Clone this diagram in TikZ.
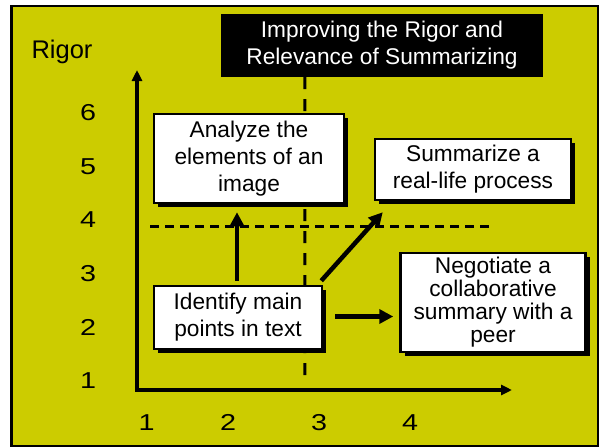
\documentclass[tikz,border=0pt]{standalone}
\usepackage{fontspec}
\setmainfont{Liberation Sans}
\newfontfamily\digitfont[FakeStretch=1.25]{Liberation Sans}
\usetikzlibrary{
  arrows.meta,
  calc,
  positioning,
  shadows
}
\definecolor{slideyellow}{RGB}{204,204,0}
\tikzset{
  axis line/.style={-{Triangle[length=11pt,width=10pt]},line width=3.2pt,draw=black},
  move/.style={-{Triangle[length=14pt,width=14pt]},line width=4.5pt,draw=black},
  guide/.style={line width=3pt,draw=black,dash pattern=on 9pt off 6pt},
  long guide/.style={guide,dash pattern=on 12pt off 10pt},
  stage box/.style={
    draw=black,
    line width=2.5pt,
    fill=white,
    align=center,
    inner sep=0pt,
    drop shadow={shadow xshift=4pt,shadow yshift=-4pt,fill=black,opacity=1}
  },
  title box/.style={fill=black,text=white,align=center,inner sep=0pt},
  ticklabel/.style={inner sep=0pt,font=\digitfont\fontsize{23}{27}\selectfont}
}
\newcommand{\slidefont}{\fontsize{22.7}{27}\selectfont}

\begin{document}
\begin{tikzpicture}[x=1pt,y=-1pt,font=\slidefont]
  \useasboundingbox (0,0) rectangle (600,447);
  % Slide background.
  \draw[line width=2.5pt,fill=slideyellow] (11.5,6) rectangle (598,446);

  % Title and axis name.
  \node[title box,minimum width=322pt,minimum height=63pt] (title) at (382,45.5)
    {Improving the Rigor and\\Relevance of Summarizing};
  \node[anchor=base,inner sep=0pt,font=\fontsize{25.5}{30}\selectfont] (rigor) at (62,58) {Rigor};

  % Axes.
  \coordinate (origin) at (137,390);
  \coordinate (ytip) at (137,70);
  \coordinate (xtip) at (512,390);
  \draw[axis line] ([yshift=-1.6pt]origin) -- (ytip);
  \draw[axis line] ([xshift=-1.6pt]origin) -- (xtip);
  \foreach \v/\y in {6/113,5/166.5,4/220,3/274,2/327.5,1/381} {
    \node[ticklabel] (y\v) at (88,\y) {\v};
  }
  \foreach \v/\x in {1/146.5,2/228,3/319,4/410} {
    \node[ticklabel] (x\v) at (\x,422.5) {\v};
  }

  % Quadrant guides.
  \draw[long guide] ($(title.south west)+(84,0)$) -- (305,380);
  \draw[guide] (150,226) -- (490,226);

  % Tasks.
  \node[stage box,minimum width=190pt,minimum height=89pt] (analyze) at (249,158.5)
    {Analyze the\\elements of an\\image};
  \node[stage box,minimum width=196pt,minimum height=61pt] (summarize) at (473,169.5)
    {Summarize a\\real-life process};
  \node[stage box,minimum width=168pt,minimum height=63pt] (identify) at (238,317.5)
    {Identify main\\points in text};
  \node[stage box,minimum width=185pt,minimum height=99pt,
        font=\fontsize{22.7}{23}\selectfont] (negotiate) at (493,302.5)
    {Negotiate a\\collaborative\\summary with a\\peer};

  % Moves from the starting task.
  \draw[move] ($(identify.north)+(-1,-4)$) -- ($(analyze.south)+(-12,8)$);
  \draw[move] ($(identify.north east)+(-2,-4)$) -- ($(summarize.south west)+(9,11)$);
  \draw[move] ($(identify.east)+(12,-1)$) -- ($(identify.east -| negotiate.west)+(-6,-1)$);
\end{tikzpicture}
\end{document}
